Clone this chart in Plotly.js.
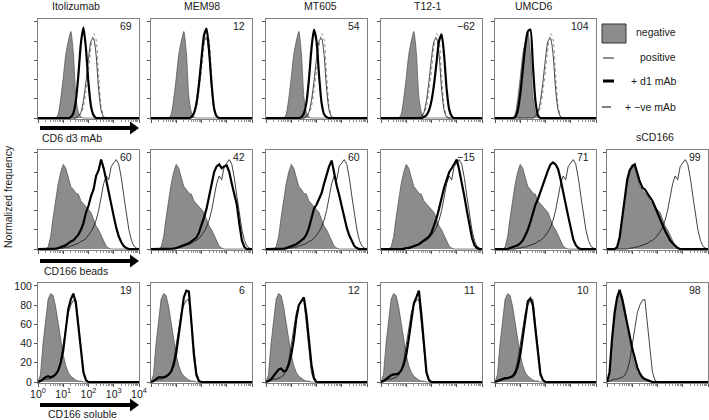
<!DOCTYPE html>
<html><head><meta charset="utf-8">
<script src="https://cdn.plot.ly/plotly-3.0.1.min.js"></script>
<style>html,body{margin:0;padding:0;background:#fff}#chart{width:709px;height:420px}</style>
</head><body><div id="chart"></div>
<script>
const W = 709, H = 420;
const FONT = 'Liberation Sans, Arial, Helvetica, sans-serif';

// log10 fluorescence grid (decades) shared by all histograms
const LOG_GRID = [0,0.1,0.2,0.3,0.4,0.5,0.6,0.7,0.8,0.9,1,1.1,1.2,1.3,1.4,1.5,1.6,1.7,1.8,1.9,2,2.1,2.2,2.3,2.4,2.5,2.6,2.7,2.8,2.9,3,3.1,3.2,3.3,3.4,3.5,3.6,3.7,3.8,3.9,4];

// Row 1: CD6 d3 mAb
const R1_NEGATIVE = [0,0,0,0,0,0,0,0,4,20, 42,66,80,90,68,22,6,1,0,0, 0,0,0,0,0,0,0,0,0,0, 0,0,0,0,0,0,0,0,0,0, 0];
const R1_POSITIVE = [0,0,0,0,0,0,0,0,0,0, 0,0,0,0,0,0,2,6,18,38, 62,80,83,66,30,8,1,0,0,0, 0,0,0,0,0,0,0,0,0,0, 0];
const R1_NEG_MAB  = [0,0,0,0,0,0,0,0,0,0, 0,0,0,0,0,0,1,4,12,28, 50,74,88,82,45,12,2,0,0,0, 0,0,0,0,0,0,0,0,0,0, 0];
const R1_D1_ITOLIZUMAB = [0,0,0,0,0,0,0,0,0,0, 0,0,0,1,5,18,45,78,94,72, 36,12,3,0,0,0,0,0,0,0, 0,0,0,0,0,0,0,0,0,0, 0];
const R1_D1_MEM98 = [0,0,0,0,0,0,0,0,0,0, 0,0,0,0,0,0,1,5,15,35, 62,86,93,70,35,10,2,0,0,0, 0,0,0,0,0,0,0,0,0,0, 0];
const R1_D1_MT605 = [0,0,0,0,0,0,0,0,0,0, 0,0,0,0,1,5,16,40,72,92, 80,45,16,4,1,0,0,0,0,0, 0,0,0,0,0,0,0,0,0,0, 0];
const R1_D1_T121  = [0,0,0,0,0,0,0,0,0,0, 0,0,0,0,0,0,0,1,3,8, 18,35,58,80,87,65,30,9,2,0, 0,0,0,0,0,0,0,0,0,0, 0];
const R1_D1_UMCD6 = [0,0,0,0,0,0,0,0,1,8, 25,50,75,90,92,55,18,3,0,0, 0,0,0,0,0,0,0,0,0,0, 0,0,0,0,0,0,0,0,0,0, 0];

// Row 2: CD166 beads
const R2_NEGATIVE = [0,0,0,0,2,13,33,53,68,80, 88,84,73,65,62,58,57,50,47,44, 42,38,31,24,20,14,8,3,1,0, 0,0,0,0,0,0,0,0,0,0, 0];
const R2_POSITIVE = [0,0,0,0,0,0,0,0,0,1, 1,2,2,3,4,5,6,8,9,11, 14,18,23,30,40,55,68,76,72,86, 90,93,88,74,55,36,20,9,3,1, 0];
const R2_D1_ITOLIZUMAB = [0,0,0,0,0,0,0,0.5,1,2, 3,4,6,8,9,12,15,20,27,38, 45,55,62,76,82,93,84,72,58,47, 34,22,13,7,3,1,0,0,0,0, 0];
const R2_D1_MEM98 = [0,0,0,0,0,0,0,0,0,0.5, 1,2,3,4,5,6,8,10,12,17, 24,33,42,55,68,80,86,88,84,86, 87,80,68,58,46,26,9,2,0,0, 0];
const R2_D1_MT605 = [0,0,0,0,0,0,0,0.5,1,2, 3,4,5,7,9,11,15,22,32,42, 46,52,58,68,78,86,92,78,66,56, 44,33,22,14,8,3,1,0,0,0, 0];
const R2_D1_T121  = [0,0,0,0,0,0,0,0,0,0, 1,1,2,3,4,5,7,9,11,13, 17,24,32,42,54,64,72,80,84,88, 93,82,70,55,40,25,12,4,1,0, 0];
const R2_D1_UMCD6 = [0,0,0,0,0,0,1,2,3,4, 6,9,14,20,28,38,46,52,60,68, 76,82,88,90,88,83,72,58,46,34, 22,10,4,1,0,0,0,0,0,0, 0];
const R2_D1_SCD166 = [0,0,0,0,2,12,32,55,72,82, 86,88,78,70,64,62,58,54,50,44, 37,31,25,19,14,9,6,3,1,0, 0,0,0,0,0,0,0,0,0,0, 0];

// Row 3: CD166 soluble
const R3_NEGATIVE = [0,8,40,66,86,92,90,78,62,44, 28,17,10,6,4,2,1,1,0,0, 0,0,0,0,0,0,0,0,0,0, 0,0,0,0,0,0,0,0,0,0, 0];
const R3_POSITIVE = [0,1,2,3,3,4,5,7,12,22, 38,56,72,80,85,86,62,32,10,2, 0,0,0,0,0,0,0,0,0,0, 0,0,0,0,0,0,0,0,0,0, 0];
const R3_D1_ITOLIZUMAB = [0,1,3,5,6,5,6,8,12,20, 33,52,76,86,92,82,58,30,10,2, 0,0,0,0,0,0,0,0,0,0, 0,0,0,0,0,0,0,0,0,0, 0];
const R3_D1_MEM98 = [0,1,3,5,5,5,6,8,11,18, 30,48,68,88,95,94,62,28,7,1, 0,0,0,0,0,0,0,0,0,0, 0,0,0,0,0,0,0,0,0,0, 0];
const R3_D1_MT605 = [0,1,3,6,10,13,14,11,12,18, 28,44,66,80,84,88,70,44,18,4, 0,0,0,0,0,0,0,0,0,0, 0,0,0,0,0,0,0,0,0,0, 0];
const R3_D1_T121  = [0,1,3,5,7,8,8,9,12,18, 28,45,66,82,88,95,70,36,10,2, 0,0,0,0,0,0,0,0,0,0, 0,0,0,0,0,0,0,0,0,0, 0];
const R3_D1_UMCD6 = [0,1,2,3,4,4,5,6,9,16, 28,46,68,84,87,80,55,28,8,2, 0,0,0,0,0,0,0,0,0,0, 0,0,0,0,0,0,0,0,0,0, 0];
const R3_D1_SCD166 = [0,10,45,72,88,96,86,72,62,48, 35,24,15,9,5,3,2,1,0,0, 0,0,0,0,0,0,0,0,0,0, 0,0,0,0,0,0,0,0,0,0, 0];

const COL_TITLES = ['Itolizumab','MEM98','MT605','T12-1','UMCD6'];
const ROW_LABELS = ['CD6 d3 mAb','CD166 beads','CD166 soluble'];
const SCORES = [['69','12','54','\u221262','104'],['60','42','60','\u221215','71','99'],['19','6','12','11','10','98']];
const LEGEND_LABELS = ['negative','positive','+ d1 mAb','+ \u2212ve mAb'];
const Y_TICKVALS = [0,20,40,60,80,100];
const X_TICKVALS = [1,10,100,1000,10000];
const X_TICKTEXT = ['10<sup>0</sup>','10<sup>1</sup>','10<sup>2</sup>','10<sup>3</sup>','10<sup>4</sup>'];
const X_MINOR = [2,3,4,5,6,7,8,9,20,30,40,50,60,70,80,90,200,300,400,500,600,700,800,900,2000,3000,4000,5000,6000,7000,8000,9000];

const ROWS = [
  {neg: R1_NEGATIVE, pos: R1_POSITIVE, ve: R1_NEG_MAB, d1: [R1_D1_ITOLIZUMAB,R1_D1_MEM98,R1_D1_MT605,R1_D1_T121,R1_D1_UMCD6], smooth: true},
  {neg: R2_NEGATIVE, pos: R2_POSITIVE, ve: null, d1: [R2_D1_ITOLIZUMAB,R2_D1_MEM98,R2_D1_MT605,R2_D1_T121,R2_D1_UMCD6,R2_D1_SCD166], smooth: false},
  {neg: R3_NEGATIVE, pos: R3_POSITIVE, ve: null, d1: [R3_D1_ITOLIZUMAB,R3_D1_MEM98,R3_D1_MT605,R3_D1_T121,R3_D1_UMCD6,R3_D1_SCD166], smooth: false}
];

// layout geometry (pixels)
const COL_LEFT = [38,151,266,381,495,607], COL_W = 101;
const ROW_TOP = [19,150,283], ROW_H = 100;
const px = x => x / W, py = y => 1 - y / H;

const FLUOR = LOG_GRID.map(v => Math.pow(10, v));

const traces = [];
const layout = {
  width: W, height: H, margin: {l:0,r:0,t:0,b:0},
  paper_bgcolor: '#fff', plot_bgcolor: '#fff', showlegend: false,
  font: {family: FONT, size: 10.5, color: '#1a1a1a'},
  annotations: [], shapes: []
};

let k = 0;
ROWS.forEach((row, r) => {
  row.d1.forEach((d1, c) => {
    k++;
    const xa = 'x' + (k === 1 ? '' : k), ya = 'y' + (k === 1 ? '' : k);
    const shape = row.smooth ? 'spline' : 'linear';
    traces.push({x: FLUOR, y: row.neg, xaxis: xa, yaxis: ya, type: 'scatter', mode: 'lines',
      fill: 'tozeroy', fillcolor: '#8c8c8c', line: {color: '#4a4a4a', width: 0.7, shape: shape, smoothing: 0.6}, hoverinfo: 'skip'});
    if (row.ve) traces.push({x: FLUOR, y: row.ve, xaxis: xa, yaxis: ya, type: 'scatter', mode: 'lines',
      line: {color: '#8a8a8a', width: 1, dash: 'dot', shape: shape, smoothing: 0.6}, hoverinfo: 'skip'});
    traces.push({x: FLUOR, y: row.pos, xaxis: xa, yaxis: ya, type: 'scatter', mode: 'lines',
      line: {color: '#111', width: 0.8, shape: shape, smoothing: 0.6}, hoverinfo: 'skip'});
    traces.push({x: FLUOR, y: d1, xaxis: xa, yaxis: ya, type: 'scatter', mode: 'lines',
      line: {color: '#000', width: 2.2, shape: shape, smoothing: 0.6}, hoverinfo: 'skip'});
    const labelled = (r === 2 && c === 0);
    const x0 = COL_LEFT[c], y0 = ROW_TOP[r];
    layout['xaxis' + (k === 1 ? '' : k)] = {
      type: 'log', range: [0, 4], domain: [px(x0), px(x0 + COL_W)], anchor: ya,
      showgrid: false, zeroline: false, showline: true, mirror: true, linecolor: '#808080', linewidth: 1,
      ticks: 'outside', ticklen: 3, tickwidth: 1, tickcolor: '#555', tickmode: 'array',
      tickvals: X_TICKVALS, ticktext: X_TICKTEXT, showticklabels: labelled, ticklabelstandoff: -2,
      tickfont: {family: FONT, size: 10.5, color: '#1a1a1a'},
      minor: {ticks: 'outside', ticklen: 1.6, tickwidth: 0.8, tickcolor: '#777', tickmode: 'array', tickvals: X_MINOR},
      fixedrange: true
    };
    layout['yaxis' + (k === 1 ? '' : k)] = {
      range: [-1, 103], domain: [py(y0 + ROW_H), py(y0)], anchor: xa,
      showgrid: false, zeroline: false, showline: true, mirror: true, linecolor: '#808080', linewidth: 1,
      ticks: 'outside', ticklen: 3, tickwidth: 1, tickcolor: '#555', tickmode: 'array',
      tickvals: Y_TICKVALS, showticklabels: labelled,
      tickfont: {family: FONT, size: 10.5, color: '#1a1a1a'}, fixedrange: true
    };
    layout.annotations.push({text: SCORES[r][c], xref: 'paper', yref: 'paper', x: px(x0 + COL_W - 5), y: py(y0 + 7),
      xanchor: 'right', yanchor: 'middle', showarrow: false, font: {family: FONT, size: 10.5, color: '#1a1a1a'}});
  });
});

const ann = (text, x, y, o) => Object.assign({text, xref: 'paper', yref: 'paper', x: px(x), y: py(y),
  xanchor: 'center', yanchor: 'middle', showarrow: false, font: {family: FONT, size: 10.5, color: '#1a1a1a'}}, o || {});

const TITLE_X = [76, 202, 320, 428, 533];
COL_TITLES.forEach((t, i) => layout.annotations.push(ann(t, TITLE_X[i], 6)));
layout.annotations.push(ann('sCD166', 655, 137));
layout.annotations.push(ann('Normalized frequency', 8, 197, {textangle: -90}));

// row axis labels with arrows
const ARROW_Y = [128, 261, 405], LABEL_Y = [138, 271, 414], LABEL_X = [40, 42, 46];
ROW_LABELS.forEach((t, i) => {
  layout.annotations.push(ann(t, LABEL_X[i], LABEL_Y[i], {xanchor: 'left'}));
  const ya = ARROW_Y[i];
  layout.shapes.push({type: 'line', xref: 'paper', yref: 'paper', x0: px(40), x1: px(131), y0: py(ya), y1: py(ya),
    line: {color: '#000', width: 4}});
  layout.shapes.push({type: 'path', xref: 'paper', yref: 'paper',
    path: `M ${px(130)} ${py(ya - 6.5)} L ${px(139)} ${py(ya)} L ${px(130)} ${py(ya + 6.5)} Z`,
    fillcolor: '#000', line: {color: '#000', width: 0}});
});

// legend (drawn in the empty sixth column of row 1)
layout.shapes.push({type: 'rect', xref: 'paper', yref: 'paper', x0: px(602), x1: px(626), y0: py(43), y1: py(24),
  fillcolor: '#8c8c8c', line: {color: '#333', width: 1}});
layout.shapes.push({type: 'line', xref: 'paper', yref: 'paper', x0: px(603), x1: px(614), y0: py(58), y1: py(58), line: {color: '#000', width: 0.9}});
layout.shapes.push({type: 'line', xref: 'paper', yref: 'paper', x0: px(603), x1: px(614), y0: py(81), y1: py(81), line: {color: '#000', width: 3}});
layout.shapes.push({type: 'line', xref: 'paper', yref: 'paper', x0: px(602), x1: px(617), y0: py(107), y1: py(107), line: {color: '#000', width: 1, dash: 'dash'}});
const LEG_Y = [32, 57, 81, 107];
LEGEND_LABELS.forEach((t, i) => layout.annotations.push(ann(t, 678, LEG_Y[i], {xanchor: 'right'})));

Plotly.newPlot('chart', traces, layout, {staticPlot: true, displayModeBar: false});
</script></body></html>
